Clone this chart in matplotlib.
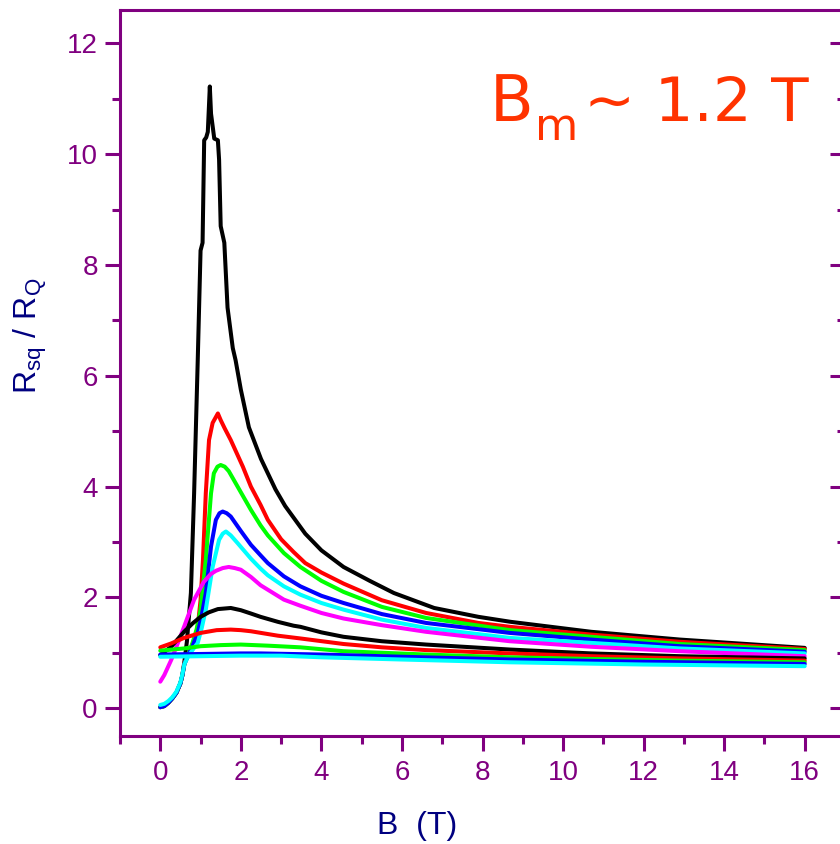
import matplotlib
matplotlib.use('Agg')
import matplotlib.pyplot as plt
from matplotlib.ticker import MultipleLocator

# R_sq / R_Q versus B (one list pair per trace)
b_black1 = [0, 0.1, 0.2, 0.3, 0.4, 0.5, 0.55, 0.6, 0.66, 0.76, 0.84, 0.93, 1.0, 1.05, 1.09, 1.14, 1.18, 1.23,
            1.26, 1.34, 1.43, 1.46, 1.5, 1.59, 1.67, 1.8, 1.87, 2.0, 2.2, 2.5, 2.86, 3.1, 3.6, 4.0, 4.55,
            5.2, 5.8, 6.8, 7.9, 8.7, 10.7, 12.9, 16.0]
r_black1 = [0.02, 0.04, 0.1, 0.18, 0.28, 0.45, 0.6, 0.85, 1.2, 2.08, 3.88, 6.28, 8.26, 8.4, 10.25, 10.3, 10.4,
            11.22, 10.73, 10.28, 10.25, 9.9, 8.7, 8.4, 7.23, 6.5, 6.28, 5.75, 5.07, 4.5, 3.95, 3.65, 3.15,
            2.85, 2.55, 2.3, 2.08, 1.81, 1.65, 1.56, 1.38, 1.24, 1.09]

b_red1 = [0, 0.1, 0.2, 0.3, 0.4, 0.5, 0.55, 0.6, 0.72, 0.85, 0.93, 1.0, 1.06, 1.13, 1.21, 1.3, 1.43, 1.5,
          1.6, 1.75, 2.05, 2.25, 2.49, 2.67, 3.0, 3.31, 3.6, 4.0, 4.55, 5.5, 6.6, 7.9, 8.68, 10.7, 12.9, 16.0]
r_red1 = [0.02, 0.04, 0.1, 0.18, 0.28, 0.45, 0.6, 0.82, 1.0, 1.25, 1.47, 1.95, 2.68, 3.88, 4.84, 5.15, 5.32,
          5.2, 5.05, 4.84, 4.36, 4.0, 3.67, 3.4, 3.05, 2.82, 2.62, 2.45, 2.25, 1.95, 1.72, 1.54, 1.47, 1.33,
          1.2, 1.07]

b_green1 = [0, 0.1, 0.2, 0.3, 0.4, 0.5, 0.55, 0.6, 0.7, 0.8, 0.9, 1.0, 1.13, 1.26, 1.33, 1.42, 1.5, 1.6,
            1.7, 1.92, 2.25, 2.49, 2.67, 3.07, 3.48, 4.0, 4.55, 5.5, 6.6, 8.68, 10.7, 12.9, 16.0]
r_green1 = [0.02, 0.04, 0.1, 0.18, 0.28, 0.45, 0.6, 0.8, 0.98, 1.18, 1.42, 1.78, 2.68, 3.88, 4.24, 4.36, 4.39,
            4.36, 4.28, 4.0, 3.58, 3.3, 3.12, 2.8, 2.55, 2.3, 2.1, 1.83, 1.63, 1.41, 1.29, 1.16, 1.05]

b_blue1 = [0, 0.1, 0.2, 0.3, 0.4, 0.5, 0.55, 0.6, 0.7, 0.8, 0.93, 1.03, 1.13, 1.26, 1.38, 1.47, 1.55, 1.65,
           1.75, 2.0, 2.25, 2.49, 2.67, 3.07, 3.48, 4.0, 4.55, 5.5, 6.6, 8.68, 10.7, 12.9, 16.0]
r_blue1 = [0.02, 0.04, 0.1, 0.18, 0.28, 0.45, 0.6, 0.8, 0.97, 1.12, 1.36, 1.68, 2.08, 2.92, 3.4, 3.52, 3.55,
           3.52, 3.46, 3.2, 2.95, 2.76, 2.62, 2.38, 2.2, 2.03, 1.9, 1.7, 1.54, 1.36, 1.24, 1.12, 1.02]

b_cyan1 = [0, 0.1, 0.2, 0.3, 0.4, 0.5, 0.55, 0.6, 0.7, 0.8, 0.93, 1.03, 1.13, 1.3, 1.46, 1.55, 1.63, 1.75,
           1.92, 2.25, 2.49, 2.67, 3.07, 3.48, 4.0, 4.55, 5.5, 6.6, 8.68, 10.7, 12.9, 16.0]
r_cyan1 = [0.06, 0.08, 0.13, 0.2, 0.3, 0.47, 0.62, 0.8, 0.95, 1.05, 1.18, 1.45, 1.78, 2.55, 3.04, 3.15, 3.19,
           3.12, 2.98, 2.7, 2.52, 2.4, 2.2, 2.05, 1.9, 1.78, 1.6, 1.45, 1.27, 1.18, 1.08, 0.99]

b_magenta = [0, 0.1, 0.27, 0.45, 0.59, 0.84, 1.08, 1.25, 1.38, 1.55, 1.7, 1.85, 2.0, 2.25, 2.49, 3.07, 3.48,
             4.0, 4.55, 5.5, 6.6, 8.68, 10.7, 12.9, 16.0]
r_magenta = [0.48, 0.6, 0.87, 1.2, 1.47, 1.96, 2.28, 2.42, 2.48, 2.53, 2.55, 2.53, 2.5, 2.37, 2.22, 1.96, 1.85,
             1.72, 1.62, 1.5, 1.38, 1.21, 1.11, 1.03, 0.94]

b_black2 = [0, 0.27, 0.59, 0.8, 1.0, 1.2, 1.43, 1.75, 2.0, 2.25, 2.49, 2.92, 3.31, 3.48, 4.0, 4.55, 5.5, 6.6,
            8.68, 10.7, 12.9, 16.0]
r_black2 = [0.96, 1.11, 1.38, 1.53, 1.65, 1.73, 1.79, 1.81, 1.77, 1.71, 1.65, 1.56, 1.49, 1.47, 1.37, 1.29,
            1.21, 1.15, 1.06, 0.99, 0.94, 0.9]

b_red2 = [0, 0.27, 0.59, 1.0, 1.4, 1.75, 2.0, 2.25, 2.92, 3.48, 4.55, 5.5, 6.6, 8.68, 10.7, 12.9, 16.0]
r_red2 = [1.1, 1.17, 1.27, 1.36, 1.41, 1.42, 1.41, 1.39, 1.31, 1.26, 1.16, 1.1, 1.05, 0.99, 0.94, 0.9, 0.86]

b_green2 = [0, 0.59, 1.0, 1.5, 2.0, 2.67, 3.48, 4.55, 6.6, 8.68, 10.7, 12.9, 16.0]
r_green2 = [1.04, 1.08, 1.12, 1.14, 1.15, 1.13, 1.1, 1.03, 0.97, 0.92, 0.89, 0.86, 0.83]

b_blue2 = [0, 1.0, 2.0, 2.49, 4.0, 6.0, 8.68, 12.0, 16.0]
r_blue2 = [0.97, 0.98, 0.99, 0.99, 0.97, 0.93, 0.88, 0.84, 0.8]

b_cyan2 = [0, 1.0, 2.0, 3.0, 4.0, 6.0, 8.68, 12.0, 16.0]
r_cyan2 = [0.93, 0.94, 0.95, 0.95, 0.92, 0.88, 0.83, 0.79, 0.76]

traces = [(b_black1, r_black1, '#000000'), (b_red1, r_red1, '#ff0000'), (b_green1, r_green1, '#00ff00'),
          (b_blue1, r_blue1, '#0000ff'), (b_cyan1, r_cyan1, '#00ffff'), (b_magenta, r_magenta, '#ff00ff'),
          (b_black2, r_black2, '#000000'), (b_red2, r_red2, '#ff0000'), (b_green2, r_green2, '#00ff00'),
          (b_blue2, r_blue2, '#0000ff'), (b_cyan2, r_cyan2, '#00ffff')]

purple = '#800080'
navy = '#000080'
plt.rcParams['font.family'] = ['Liberation Sans', 'DejaVu Sans']

fig = plt.figure(figsize=(8.4, 8.44), dpi=100)
# the right spine sits just outside the picture, as in the original
ax = fig.add_axes([120 / 840, 1 - 736 / 844, 725 / 840, 726 / 844])

for b, r, c in traces:
    ax.plot(b, r, color=c, lw=2.9, solid_joinstyle='round', solid_capstyle='round')

ax.set_xlim(-0.97, 17)
ax.set_ylim(-0.5, 12.6)

for s in ax.spines.values():
    s.set_color(purple)
    s.set_linewidth(2.2)

ax.set_xticks(range(0, 17, 2))
ax.set_xticks([x for x in range(-1, 18) if x % 2], minor=True)
ax.yaxis.set_major_locator(MultipleLocator(2))
ax.yaxis.set_minor_locator(MultipleLocator(1))
ax.tick_params(axis='x', which='both', direction='out', top=False, colors=purple, width=2.2,
               labelsize=20, pad=6)
ax.tick_params(axis='x', which='major', length=11)
ax.tick_params(axis='x', which='minor', length=6)
ax.tick_params(axis='y', which='both', left=True, right=True, colors=purple, width=2.2,
               labelsize=20, pad=5)
ax.tick_params(axis='y', which='major', length=11)
ax.tick_params(axis='y', which='minor', length=6)
# right side ticks point inwards
for t in ax.yaxis.get_major_ticks() + ax.yaxis.get_minor_ticks():
    t.tick2line.set_marker(matplotlib.lines.TICKLEFT)

fig.text(417 / 840, 1 - 826 / 844, 'B  (T)', color=navy, fontsize=23, ha='center', va='center')
fig.text(30 / 840, 1 - 336 / 844, r'R$_{\mathregular{sq}}$ / R$_{\mathregular{Q}}$', color=navy,
         fontsize=23, rotation=90, ha='center', va='center')

orange = '#ff3300'
fig.text(490 / 840, 1 - 121 / 844, 'B', color=orange, fontsize=46, family='DejaVu Sans', va='baseline')
fig.text(535 / 840, 1 - 140 / 844, 'm', color=orange, fontsize=32, family='DejaVu Sans', va='baseline')
fig.text(584 / 840, 1 - 121 / 844, '~ 1.2 T', color=orange, fontsize=44, family='DejaVu Sans', va='baseline')

fig.savefig('out.png', dpi=100)
